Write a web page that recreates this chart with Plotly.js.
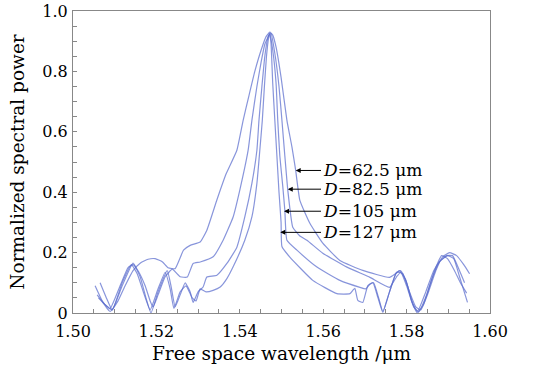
<!DOCTYPE html>
<html>
<head>
<meta charset="utf-8">
<script src="https://cdn.plot.ly/plotly-3.0.1.min.js"></script>
<style>html,body{margin:0;padding:0;background:#fff}#chart{width:533px;height:371px}</style>
</head>
<body>
<div id="chart"></div>
<script>
// D = 62.5 um
const wlD625 = [1.5053,1.5070,1.5089,1.5108,1.5125,1.5144,1.5161,1.5180,1.5197,1.5214,1.5228,1.5245,1.5265,1.5281,1.5305,1.5321,1.5345,1.5367,1.5393,1.5408,1.5422,1.5436,1.5451,1.5463,1.5472,1.5479,1.5487,1.5499,1.5513,1.5525,1.5534,1.5544,1.5568,1.5599,1.5640,1.5695,1.5759,1.5779,1.5791,1.5807,1.5822,1.5834,1.5850,1.5870,1.5886,1.5903,1.5920,1.5937,1.5951];
const pD625 = [0.09,0.04,0.005,0.04,0.09,0.14,0.165,0.178,0.18,0.17,0.15,0.147,0.208,0.224,0.235,0.274,0.374,0.46,0.539,0.638,0.72,0.80,0.87,0.915,0.93,0.92,0.88,0.78,0.638,0.55,0.472,0.373,0.297,0.231,0.174,0.141,0.118,0.135,0.13,0.07,0.02,0.01,0.06,0.14,0.185,0.20,0.19,0.16,0.13];
// D = 82.5 um
const wlD825 = [1.5061,1.5075,1.5089,1.5113,1.5132,1.5144,1.5156,1.5173,1.5185,1.5192,1.5204,1.5221,1.5238,1.5257,1.5274,1.5288,1.5305,1.5336,1.5360,1.5384,1.5400,1.5420,1.5429,1.5441,1.5451,1.5460,1.5470,1.5475,1.5484,1.5494,1.5501,1.5508,1.5515,1.5527,1.5544,1.5561,1.5599,1.5657,1.5712,1.5759,1.5776,1.5786,1.5800,1.5817,1.5829,1.5848,1.5867,1.5884,1.5898,1.5915,1.5929,1.5944];
const pD825 = [0.05,0.03,0.015,0.09,0.15,0.16,0.14,0.09,0.04,0.02,0.06,0.12,0.145,0.12,0.119,0.164,0.169,0.186,0.241,0.318,0.407,0.539,0.638,0.75,0.83,0.89,0.92,0.925,0.86,0.75,0.638,0.52,0.408,0.284,0.255,0.241,0.198,0.152,0.118,0.085,0.12,0.135,0.09,0.02,0.005,0.06,0.14,0.19,0.18,0.14,0.10,0.066];
// D = 105 um
const wlD105 = [1.5065,1.5080,1.5094,1.5118,1.5144,1.5161,1.5175,1.5187,1.5204,1.5226,1.5235,1.5245,1.5257,1.5269,1.5281,1.5288,1.5300,1.5312,1.5321,1.5345,1.5369,1.5393,1.5412,1.5429,1.5441,1.5446,1.5453,1.5460,1.5467,1.5472,1.5479,1.5487,1.5491,1.5496,1.5503,1.5508,1.5513,1.5537,1.5585,1.5640,1.5688,1.5702,1.5712,1.5721,1.5733,1.5743,1.5759,1.5774,1.5783,1.5798,1.5812,1.5826,1.5846,1.5865,1.5879,1.5896,1.5910,1.5927,1.5939];
const pD105 = [0.10,0.05,0.01,0.09,0.165,0.12,0.05,0.0,0.07,0.14,0.09,0.02,0.06,0.10,0.07,0.035,0.07,0.086,0.119,0.125,0.164,0.218,0.318,0.429,0.539,0.638,0.75,0.85,0.91,0.925,0.87,0.76,0.638,0.52,0.42,0.34,0.241,0.208,0.152,0.108,0.085,0.08,0.095,0.10,0.05,0.005,0.07,0.13,0.14,0.11,0.04,0.005,0.07,0.14,0.17,0.19,0.19,0.14,0.10];
// D = 127 um
const wlD127 = [1.5058,1.5075,1.5094,1.5118,1.5140,1.5154,1.5171,1.5185,1.5204,1.5221,1.5233,1.5242,1.5257,1.5271,1.5286,1.5295,1.5305,1.5319,1.5336,1.5353,1.5369,1.5384,1.5412,1.5429,1.5441,1.5448,1.5454,1.5459,1.5464,1.5469,1.5472,1.5475,1.5479,1.5484,1.5489,1.5494,1.5499,1.5501,1.5520,1.5575,1.5633,1.5664,1.5671,1.5676,1.5683,1.5695,1.5707,1.5719,1.5731,1.5743,1.5759,1.5776,1.5786,1.5800,1.5815,1.5826,1.5841,1.5860,1.5879,1.5898,1.5913,1.5927,1.5946];
const pD127 = [0.06,0.03,0.01,0.10,0.16,0.13,0.06,0.01,0.08,0.135,0.08,0.015,0.07,0.09,0.05,0.04,0.08,0.07,0.075,0.086,0.114,0.153,0.241,0.318,0.429,0.539,0.638,0.75,0.85,0.91,0.925,0.89,0.76,0.638,0.52,0.40,0.30,0.22,0.185,0.108,0.064,0.064,0.075,0.082,0.042,0.035,0.091,0.101,0.052,0.002,0.07,0.135,0.14,0.10,0.03,0.0,0.03,0.11,0.17,0.19,0.18,0.12,0.035];

const seriesNames = ['D=62.5 μm','D=82.5 μm','D=105 μm','D=127 μm'];
const labelTexts = ['<i>D</i>=62.5 μm','<i>D</i>=82.5 μm','<i>D</i>=105 μm','<i>D</i>=127 μm'];
const arrowTipX = [1.5534,1.5515,1.5506,1.5497];
const arrowTipY = [0.472,0.41,0.337,0.267];
const xTickVals = [1.50,1.52,1.54,1.56,1.58,1.60];
const xTickText = ['1.50','1.52','1.54','1.56','1.58','1.60'];
const yTickVals = [0,0.2,0.4,0.6,0.8,1.0];
const yTickText = ['0','0.2','0.4','0.6','0.8','1.0'];

const xs = [wlD625, wlD825, wlD105, wlD127];
const ys = [pD625, pD825, pD105, pD127];
const lineColor = 'rgba(90,108,205,0.72)';
const traces = xs.map((x,i)=>({
  x:x, y:ys[i], type:'scatter', mode:'lines', name:seriesNames[i],
  line:{color:lineColor, width:1.2, shape:'spline', smoothing:0.4}, showlegend:false, hoverinfo:'skip'
}));

const font = 'DejaVu Serif, Liberation Serif, serif';
const annotations = labelTexts.map((t,i)=>({
  x:arrowTipX[i], y:arrowTipY[i], xref:'x', yref:'y',
  text:t, showarrow:true, arrowhead:2, arrowsize:1, arrowwidth:1, arrowcolor:'#000',
  ax:26, ay:0, xanchor:'left', yanchor:'middle',
  font:{family:font, size:17, color:'#000'}
}));
// arrow tails aligned to a common text left edge
const tipPx = arrowTipX.map(v => (v-1.50)/0.10*417);
annotations.forEach((a,i)=>{ a.ax = 248 - tipPx[i]; });

const layout = {
  width:533, height:371,
  margin:{l:73, r:43, t:11, b:58, pad:0},
  paper_bgcolor:'#fff', plot_bgcolor:'#fff',
  font:{family:font, size:16, color:'#000'},
  xaxis:{
    range:[1.50,1.60], tickvals:xTickVals, ticktext:xTickText,
    ticks:'inside', ticklen:4, tickcolor:'#888', tickwidth:1, ticklabelstandoff:4,
    minor:{dtick:0.005, tick0:1.50, ticks:'inside', ticklen:4, tickcolor:'#888', tickwidth:1},
    showline:true, linecolor:'#888', linewidth:1, mirror:true, showgrid:false, zeroline:false,
    tickfont:{family:font, size:16, color:'#000'},
    title:{text:'Free space wavelength /μm', font:{family:font, size:18.5, color:'#000'}, standoff:6}
  },
  yaxis:{
    range:[0,1.0], tickvals:yTickVals, ticktext:yTickText,
    ticks:'inside', ticklen:4, tickcolor:'#888', tickwidth:1, ticklabelstandoff:1,
    minor:{dtick:0.05, tick0:0, ticks:'inside', ticklen:4, tickcolor:'#888', tickwidth:1},
    showline:true, linecolor:'#888', linewidth:1, mirror:true, showgrid:false, zeroline:false,
    tickfont:{family:font, size:16, color:'#000'},
    title:{text:'Normalized spectral power', font:{family:font, size:18.5, color:'#000'}, standoff:12}
  },
  annotations:annotations
};
Plotly.newPlot('chart', traces, layout, {displayModeBar:false, staticPlot:true});
</script>
</body>
</html>
